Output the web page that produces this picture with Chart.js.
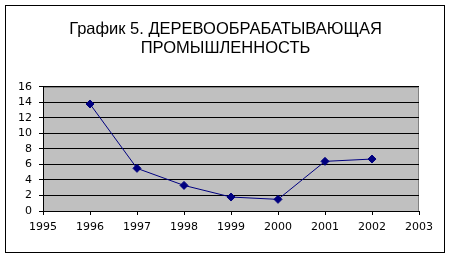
<!DOCTYPE html>
<html>
<head>
<meta charset="utf-8">
<script src="https://cdn.jsdelivr.net/npm/chart.js@4"></script>
<style>
  body { margin: 0; background: #fff; }
  #wrap { position: absolute; left: 0; top: 0; width: 451px; height: 258px; }
</style>
</head>
<body>
<div id="wrap"><canvas id="chart"></canvas></div>
<script>
// data
const years = [1996, 1997, 1998, 1999, 2000, 2001, 2002];
const values = [13.8, 5.5, 3.3, 1.8, 1.5, 6.4, 6.7];
const titleLines = ['График 5. ДЕРЕВООБРАБАТЫВАЮЩАЯ', 'ПРОМЫШЛЕННОСТЬ'];
const xMin = 1995, xMax = 2003;
const yMin = 0, yMax = 16, yStep = 2;

const lineColor = '#000080';

// frame around the whole chart + grey plot background
const frame = {
    id: 'frame',
    beforeDraw(chart) {
        const ctx = chart.ctx;
        const a = chart.chartArea;
        ctx.save();
        ctx.fillStyle = '#c0c0c0';
        ctx.fillRect(a.left, a.top, a.right - a.left, a.bottom - a.top);
        ctx.strokeStyle = '#808080';
        ctx.lineWidth = 1;
        ctx.strokeRect(a.left + 0.5, a.top + 0.5, a.right - a.left - 1, a.bottom - a.top);
        ctx.strokeStyle = '#000';
        ctx.strokeRect(5.5, 5.5, 439, 247);
        ctx.restore();
    }
};

const chart = new Chart(document.getElementById('chart'), {
    type: 'line',
    data: {
        datasets: [{
            data: years.map((y, i) => ({ x: y, y: values[i] })),
            borderColor: lineColor,
            borderWidth: 1,
            backgroundColor: lineColor,
            pointStyle: 'rectRot',
            pointRadius: 4,
            pointBorderWidth: 1,
            tension: 0
        }]
    },
    options: {
        responsive: true,
        maintainAspectRatio: false,
        animation: false,
        devicePixelRatio: 1,
        layout: { padding: 0 },
        plugins: {
            legend: { display: false },
            tooltip: { enabled: false },
            title: {
                display: true,
                text: titleLines,
                color: '#000',
                font: { family: 'Liberation Sans Narrow, Liberation Sans, Arial', size: 16.5, weight: 'normal', lineHeight: 1.21 },
                padding: { top: 19, bottom: 28 }
            }
        },
        scales: {
            x: {
                type: 'linear',
                min: xMin,
                max: xMax,
                afterFit(s) { s.height = 47; },
                ticks: {
                    stepSize: 1,
                    autoSkip: false,
                    color: '#000',
                    padding: 6,
                    font: { family: 'DejaVu Sans', size: 11 },
                    callback: v => String(v)
                },
                grid: { display: true, drawOnChartArea: false, drawTicks: true, tickLength: 4, color: '#000' },
                border: { display: true, color: '#000', width: 1 }
            },
            y: {
                min: yMin,
                max: yMax,
                afterFit(s) { s.width = 43; },
                ticks: {
                    stepSize: yStep,
                    autoSkip: false,
                    color: '#000',
                    padding: 7,
                    font: { family: 'DejaVu Sans', size: 11 }
                },
                grid: { color: '#000', lineWidth: 1, tickLength: 4, tickColor: '#000' },
                border: { display: true, color: '#000', width: 1 }
            },
            // empty right-hand spacer so the plot ends where the reference's does
            spacer: {
                position: 'right',
                afterFit(s) { s.width = 32; },
                ticks: { display: false },
                grid: { display: false },
                border: { display: false }
            }
        }
    },
    plugins: [frame]
});
</script>
</body>
</html>
